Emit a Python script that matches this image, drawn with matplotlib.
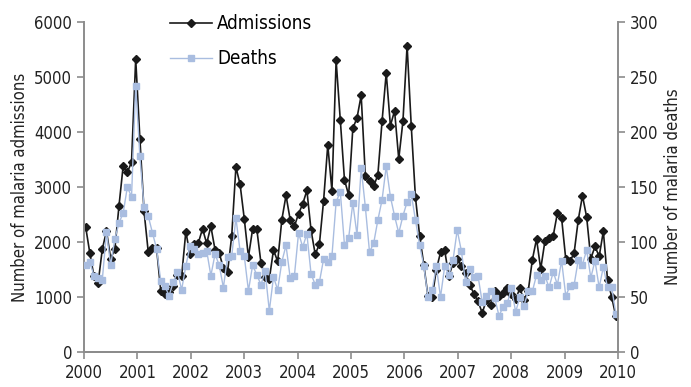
import numpy as np
import matplotlib
matplotlib.use('Agg')
from matplotlib import pyplot as plt

plt.rcParams['font.family'] = ['DejaVu Sans']
plt.rcParams['font.stretch'] = 'condensed'

# 4-weekly malaria admissions (left axis) and deaths (right axis), 2000-2010
admissions = [2280, 1805, 1375, 1255, 1870, 2200, 1700, 1870, 2660, 3385,
              3270, 3450, 5330, 3880, 2557, 1820, 1900, 1890, 1110, 1050,
              1100, 1200, 1400, 1375, 2187, 1782, 1969, 1982, 2240, 1975,
              2284, 1860, 1800, 1527, 1455, 2115, 3364, 3047, 2424, 1727,
              2236, 2236, 1618, 1364, 1327, 1855, 1647, 2405, 2847, 2405,
              2284, 2515, 2691, 2938, 2211, 1775, 1964, 2751, 3764, 2933,
              5302, 4220, 3133, 2850, 4066, 4255, 4666, 3205, 3115, 3011,
              3224, 4193, 5073, 4115, 4387, 3509, 4193, 5569, 4102, 2811,
              2115, 1587, 1011, 993, 1496, 1811, 1847, 1375, 1618, 1691,
              1569, 1440, 1220, 1060, 920, 709, 951, 847, 1102, 1024,
              1073, 1164, 1060, 964, 1156, 951, 1102, 1678, 2055, 1509,
              2011, 2073, 2115, 2527, 2436, 1691, 1647, 1800, 2405, 2842,
              2455, 1696, 1920, 1738, 2193, 1315, 1000, 647]

deaths = [79.4, 82, 69.4, 67, 65.7, 108.7, 79, 102.7, 117.3, 126.4,
          150, 141, 241.8, 178, 131.8, 123.6, 108.5, 93.9, 64.5, 59.6,
          51.2, 63.6, 72.7, 56.6, 78.2, 96, 93.3, 89, 90, 92,
          69.4, 89, 79, 58.5, 86.6, 87.3, 121.8, 91.8, 87.3, 55.7,
          79, 70, 61.2, 73.3, 37.5, 68.2, 56.6, 82, 97, 67.3,
          69, 108.2, 95.5, 107.3, 70.9, 61.2, 63.6, 84.5, 82, 87.3,
          136.4, 145.7, 97.3, 103.6, 135.5, 106.4, 167.3, 131.8, 90.9, 99,
          120, 138.2, 168.7, 141.2, 123.6, 108.2, 123.6, 136.4, 143.6, 120,
          97.3, 78.2, 50, 56.4, 77.8, 50, 77.8, 70.3, 83.6, 110.9,
          91.8, 63.6, 75.5, 68.2, 68.7, 45.1, 50.5, 55.1, 49.1, 33,
          40.9, 44.5, 57.8, 36.4, 50, 42.1, 55.1, 55.1, 70, 65.7,
          69.4, 58.7, 72.7, 61.2, 83, 51.2, 59.6, 60.9, 83.9, 79.4,
          92.7, 67.5, 83, 58.7, 77.3, 58.7, 58.7, 34.8]

years = list(range(2000, 2011))

# periods spread evenly over the decade
t = np.linspace(2000.03, 2009.96, len(admissions))

grey = '#8c8c8c'
black = '#1a1a1a'
blue = '#a9bde0'

fig = plt.figure(figsize=(6.91, 3.87), dpi=100)
ax = fig.add_axes([84/691, 1 - 352/387, (618-84)/691, (352-22)/387])
ax2 = ax.twinx()

l1, = ax.plot(t, admissions, color=black, lw=1.2, marker='D', ms=3.6,
              label='Admissions')
l2, = ax2.plot(t, deaths, color=blue, lw=1.0, marker='s', ms=5,
               label='Deaths')

ax.set_xlim(2000, 2010)
ax.set_ylim(0, 6000)
ax2.set_ylim(0, 300)
ax.set_xticks(years)
ax.set_yticks(range(0, 6001, 1000))
ax2.set_yticks(range(0, 301, 50))

for a in (ax, ax2):
    for s in a.spines.values():
        s.set_color(grey)
        s.set_linewidth(1.4)
    a.spines['top'].set_visible(False)
    a.tick_params(colors=grey, labelcolor='#222222', labelsize=12,
                  width=1.2, length=5)
ax2.spines['left'].set_visible(False)
ax.spines['right'].set_visible(False)

ax.set_ylabel('Number of malaria admissions', fontsize=12, color='#222222')
ax2.set_ylabel('Number of malaria deaths', fontsize=12, color='#222222')

ax2.legend(handles=[l1, l2], loc='upper left', bbox_to_anchor=(0.13, 1.075),
           frameon=False, fontsize=13.5, handlelength=2.2, labelspacing=0.85,
           handletextpad=0.3)

plt.savefig('out.png', dpi=100)
